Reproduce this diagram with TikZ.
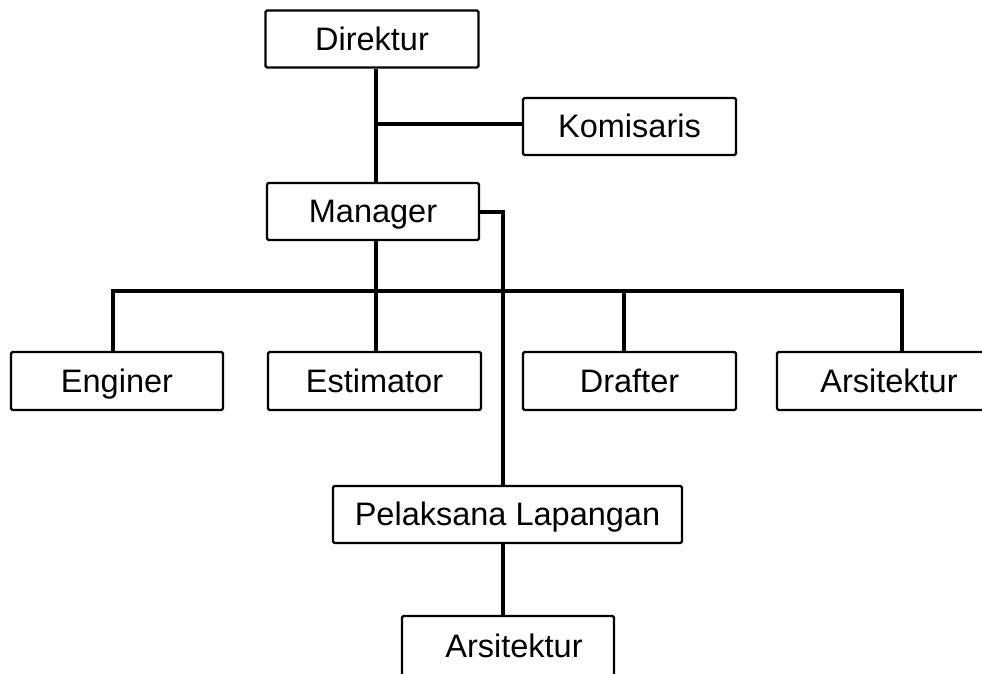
\documentclass[tikz,border=0pt]{standalone}
\usepackage{fontspec}
\setmainfont{Liberation Sans}
\begin{document}
\begin{tikzpicture}[x=1pt,y=-1pt,
  box/.style={draw,line width=2.2pt,rounded corners=1.5pt,minimum height=57pt,
    inner sep=0pt,text height=22.5pt,text depth=0pt,
    font=\fontsize{32.5}{38}\selectfont},
  conn/.style={line width=3.4pt}]
\useasboundingbox (0,0) rectangle (982,673);
% boxes
\node[box,minimum width=213pt] (dir) at (372,39) {Direktur};
\node[box,minimum width=213pt] (kom) at (629.5,126.5) {Komisaris};
\node[box,minimum width=212pt] (man) at (373,211.5) {Manager};
\node[box,minimum width=212pt,minimum height=58pt] (eng) at (117,381) {Enginer};
\node[box,minimum width=213pt,minimum height=58pt] (est) at (374.5,381) {Estimator};
\node[box,minimum width=213pt,minimum height=58pt] (dra) at (629.5,381) {Drafter};
\node[box,minimum width=213pt,minimum height=58pt] (ars1) at (883.5,381) {\hspace*{11pt}Arsitektur};
\node[box,minimum width=349pt] (pel) at (507.5,514.5) {Pelaksana Lapangan};
\node[box,minimum width=212pt,minimum height=60pt] (ars2) at (508,646) {\hspace*{12pt}Arsitektur};
% helper coordinates
\coordinate (tk) at (376,124);
\coordinate (b1) at (113,291);
\coordinate (b2) at (376,291);
\coordinate (b3) at (624,291);
\coordinate (b4) at (902,291);
\coordinate (pr) at (503,212);
% connectors
\draw[conn] (dir.south -| tk) -- (man.north -| tk);
\draw[conn] (tk) -- (kom.west |- tk);
\draw[conn] (man.south -| b2) -- (b2);
\draw[conn] (eng.north -| b1) -- (b1) -- (b4) -- (ars1.north -| b4);
\draw[conn] (b2) -- (est.north -| b2);
\draw[conn] (b3) -- (dra.north -| b3);
\draw[conn] (man.east |- pr) -- (pr) -- (pel.north -| pr);
\draw[conn] (pel.south -| pr) -- (ars2.north -| pr);
\end{tikzpicture}
\end{document}
